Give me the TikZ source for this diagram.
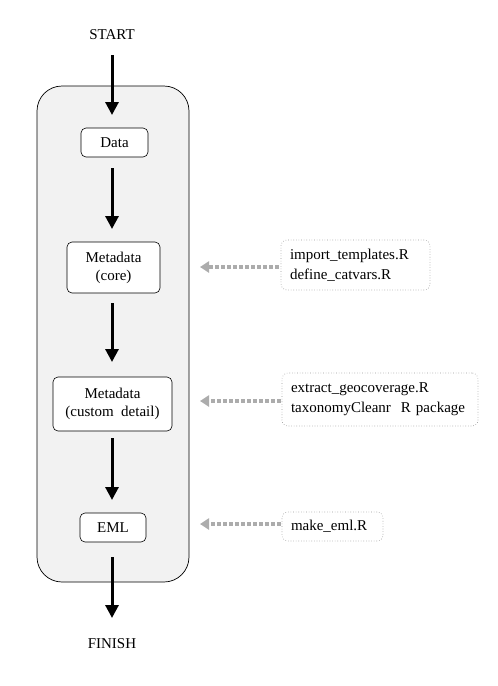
\documentclass[tikz,border=0pt]{standalone}
\usepackage{fontspec}
\setmainfont{Liberation Serif}
\usetikzlibrary{arrows.meta}
\begin{document}
\begin{tikzpicture}[x=1pt,y=-1pt,
  stepbox/.style={draw=black,line width=0.6pt,rounded corners=5pt,fill=white,align=center,inner sep=0pt,font=\rmfamily\fontsize{15}{18}\selectfont},
  notebox/.style={draw=gray!80,dotted,line width=0.6pt,rounded corners=6pt,fill=white,align=left,inner sep=0pt,font=\rmfamily\fontsize{15}{20}\selectfont,text width=#1},
  flow/.style={line width=3pt,-{Triangle[length=13pt,width=13pt]}},
  hint/.style={draw=gray!65,line width=3.5pt,dash pattern=on 3.5pt off 2.5pt,-{Triangle[length=9pt,width=11pt,fill=gray!65]}},
  lbl/.style={font=\rmfamily\fontsize{15}{18}\selectfont}
]
\useasboundingbox (0,0) rectangle (498,686);
\fill[white] (0,0) rectangle (498,686);
\draw[line width=0.7pt,fill=gray!10,rounded corners=25pt] (37,86) rectangle (189,582);

\node[lbl] (start) at (112,35) {START};
\node[lbl] (finish) at (112,644) {FINISH};

\node[stepbox,minimum width=67pt,minimum height=29pt] (data) at (114.5,142.5) {Data};
\node[stepbox,minimum width=93pt,minimum height=51pt] (core) at (113.5,267.5) {Metadata\\(core)};
\node[stepbox,minimum width=119pt,minimum height=54pt] (custom) at (112.5,404) {Metadata\\(custom\ \ detail)};
\node[stepbox,minimum width=66pt,minimum height=29pt] (eml) at (113,527.5) {EML};

\node[notebox=131pt,minimum width=149pt,minimum height=50pt] (n1) at (355.5,265) {import\_templates.R\\define\_catvars.R};
\node[notebox=178pt,minimum width=196pt,minimum height=53pt] (n2) at (380,399.5) {extract\_geocoverage.R\\taxonomyCleanr\ \ R package};
\node[notebox=83pt,minimum width=101pt,minimum height=29pt] (n3) at (332.5,526.5) {make\_eml.R};

\coordinate (s0) at (112,55);
\coordinate (f1) at (112,618);
\draw[flow] (s0) -- (112,115);
\draw[flow] (112,168) -- (112,229);
\draw[flow] (112,303) -- (112,362);
\draw[flow] (112,438) -- (112,500);
\draw[flow] (112,557) -- (f1);

\draw[hint] (n1.west) ++(-2,2) -- (200,267);
\draw[hint] (n2.west) ++(-1,1.5) -- (200,401);
\draw[hint] (n3.west) ++(-1,-2.5) -- (200,524);
\end{tikzpicture}
\end{document}
